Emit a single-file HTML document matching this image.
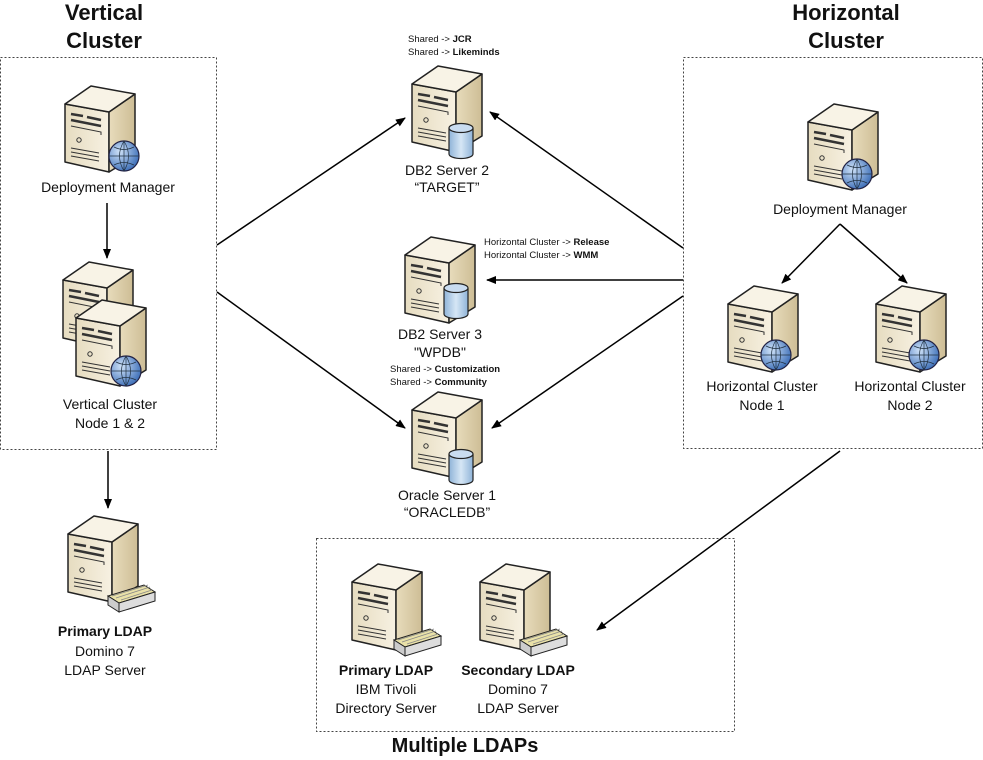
<!DOCTYPE html>
<html><head><meta charset="utf-8"><style>
html,body{margin:0;padding:0;background:#fff}
svg{display:block}
text{font-family:"Liberation Sans",Arial,sans-serif;fill:#111}
.l{font-size:14px;text-anchor:middle}
.s{font-size:9.5px}
.t{font-size:22px;font-weight:bold;text-anchor:middle}
</style></head><body>
<svg width="983" height="760" viewBox="0 0 983 760" xmlns="http://www.w3.org/2000/svg">
<defs>
<linearGradient id="fr" x1="0" x2="1"><stop offset="0" stop-color="#e6dcc0"/><stop offset="1" stop-color="#f7f1e2"/></linearGradient>
<linearGradient id="sd" x1="0" x2="1"><stop offset="0" stop-color="#e8dcbc"/><stop offset="1" stop-color="#cdbd95"/></linearGradient>
<radialGradient id="gl" cx="0.35" cy="0.35" r="0.7"><stop offset="0" stop-color="#cfe2f8"/><stop offset="1" stop-color="#3d6fb8"/></radialGradient>
<linearGradient id="cy" x1="0" x2="1"><stop offset="0" stop-color="#8fb4d8"/><stop offset="0.5" stop-color="#d6e6f5"/><stop offset="1" stop-color="#8fb4d8"/></linearGradient>
<g id="srv">
<path d="M0,22 L44,30 L44,90 L0,80 Z" fill="url(#fr)" stroke="#222" stroke-width="1.5" stroke-linejoin="round"/>
<path d="M44,30 L70,12 L70,74 L44,90 Z" fill="url(#sd)" stroke="#222" stroke-width="1.5" stroke-linejoin="round"/>
<path d="M0,22 L26,4 L70,12 L44,30 Z" fill="#f8f3e6" stroke="#222" stroke-width="1.5" stroke-linejoin="round"/>
<path d="M6,32 L18,34 M22,35 L36,38 M6,38 L36,44" stroke="#333" stroke-width="2.5"/>
<path d="M6,44 L36,50 L36,53" stroke="#333" stroke-width="1" fill="none"/>
<circle cx="14" cy="58" r="2.2" fill="none" stroke="#333"/>
<path d="M6,66 L34,71 M6,70 L34,75 M6,74 L34,79" stroke="#333" stroke-width="1"/>
</g>
<g id="glb"><circle r="15" fill="url(#gl)" stroke="#224" stroke-width="1.2"/><path d="M-15,0 H15 M0,-15 V15 M-10,-9 Q0,-4 10,-9 M-10,9 Q0,4 10,9 M0,-15 Q-9,0 0,15 M0,-15 Q9,0 0,15" stroke="#234" stroke-width="0.7" fill="none"/></g>
<g id="db"><path d="M-12,-13 V13 A12,4.5 0 0 0 12,13 V-13" fill="url(#cy)" stroke="#222" stroke-width="1.2"/><ellipse cy="-13" rx="12" ry="4.5" fill="#c9dcf0" stroke="#222" stroke-width="1.2"/></g>
<g id="drv"><path d="M-20,0 L16,-11 L27,-4 L-9,7 Z" fill="#e9e1a8" stroke="#222"/><path d="M-20,0 L-9,7 L-9,16 L-20,9 Z" fill="#ccc" stroke="#222"/><path d="M-9,7 L27,-4 L27,5 L-9,16 Z" fill="#ddd" stroke="#222"/><path d="M-16,0 L20,-11 M-12,2 L22,-9 M-7,4 L24,-6" stroke="#888" stroke-width="0.8"/></g>
<marker id="ar" markerWidth="10" markerHeight="8" refX="9" refY="4" orient="auto" markerUnits="userSpaceOnUse" viewBox="0 0 10 8"><path d="M0,0 L10,4 L0,8 Z" fill="#000"/></marker>
</defs>

<rect x="0.5" y="57.5" width="216" height="392" fill="none" stroke="#444" stroke-dasharray="2,2"/>
<rect x="683.5" y="57.5" width="299" height="391" fill="none" stroke="#444" stroke-dasharray="2,2"/>
<rect x="316.5" y="538.5" width="418" height="193" fill="none" stroke="#444" stroke-dasharray="2,2"/>

<text class="t" x="104" y="20">Vertical</text><text class="t" x="104" y="48">Cluster</text>
<text class="t" x="846" y="20">Horizontal</text><text class="t" x="846" y="48">Cluster</text>
<text class="t" x="465" y="752" style="font-size:20px">Multiple LDAPs</text>

<g stroke="#000" stroke-width="1.5" fill="none" marker-end="url(#ar)">
<line x1="107" y1="203" x2="107" y2="258"/>
<line x1="108" y1="451" x2="108" y2="508"/>
<line x1="217" y1="245" x2="405" y2="118"/>
<line x1="217" y1="292" x2="405" y2="428"/>
<line x1="683" y1="248" x2="490" y2="112"/>
<line x1="683" y1="280" x2="487" y2="280"/>
<line x1="683" y1="296" x2="492" y2="428"/>
<line x1="840" y1="451" x2="597" y2="630"/>
<line x1="840" y1="224" x2="782" y2="283"/>
<line x1="840" y1="224" x2="907" y2="283"/>
</g>

<use href="#srv" x="65" y="82"/><use href="#glb" x="124" y="156"/>
<text class="l" x="108" y="192">Deployment Manager</text>
<use href="#srv" x="63" y="258"/>
<use href="#srv" x="76" y="296"/><use href="#glb" x="126" y="371"/>
<text class="l" x="110" y="409">Vertical Cluster</text><text class="l" x="110" y="428">Node 1 &amp; 2</text>
<use href="#srv" x="68" y="512"/><use href="#drv" x="128" y="596"/>
<text class="l" x="105" y="636" style="font-weight:bold">Primary LDAP</text>
<text class="l" x="105" y="656">Domino 7</text><text class="l" x="105" y="675">LDAP Server</text>

<text class="s" x="408" y="42">Shared -&gt; <tspan font-weight="bold">JCR</tspan></text>
<text class="s" x="408" y="55">Shared -&gt; <tspan font-weight="bold">Likeminds</tspan></text>
<use href="#srv" x="412" y="62"/><use href="#db" x="461" y="141"/>
<text class="l" x="447" y="175">DB2 Server 2</text><text class="l" x="447" y="192">“TARGET”</text>
<text class="s" x="484" y="245">Horizontal Cluster -&gt; <tspan font-weight="bold">Release</tspan></text>
<text class="s" x="484" y="258">Horizontal Cluster -&gt; <tspan font-weight="bold">WMM</tspan></text>
<use href="#srv" x="405" y="233"/><use href="#db" x="456" y="301"/>
<text class="l" x="440" y="339">DB2 Server 3</text><text class="l" x="440" y="357">"WPDB"</text>
<text class="s" x="390" y="372">Shared -&gt; <tspan font-weight="bold">Customization</tspan></text>
<text class="s" x="390" y="385">Shared -&gt; <tspan font-weight="bold">Community</tspan></text>
<use href="#srv" x="412" y="388"/><use href="#db" x="461" y="467"/>
<text class="l" x="447" y="500">Oracle Server 1</text><text class="l" x="447" y="517">“ORACLEDB”</text>

<use href="#srv" x="808" y="100"/><use href="#glb" x="857" y="174"/>
<text class="l" x="840" y="214">Deployment Manager</text>
<use href="#srv" x="728" y="282"/><use href="#glb" x="776" y="355"/>
<text class="l" x="762" y="391">Horizontal Cluster</text><text class="l" x="762" y="410">Node 1</text>
<use href="#srv" x="876" y="282"/><use href="#glb" x="924" y="355"/>
<text class="l" x="910" y="391">Horizontal Cluster</text><text class="l" x="910" y="410">Node 2</text>

<use href="#srv" x="352" y="560"/><use href="#drv" x="414" y="640"/>
<use href="#srv" x="480" y="560"/><use href="#drv" x="540" y="640"/>
<text class="l" x="386" y="675" style="font-weight:bold">Primary LDAP</text>
<text class="l" x="386" y="694">IBM Tivoli</text><text class="l" x="386" y="713">Directory Server</text>
<text class="l" x="518" y="675" style="font-weight:bold">Secondary LDAP</text>
<text class="l" x="518" y="694">Domino 7</text><text class="l" x="518" y="713">LDAP Server</text>
</svg>
</body></html>
